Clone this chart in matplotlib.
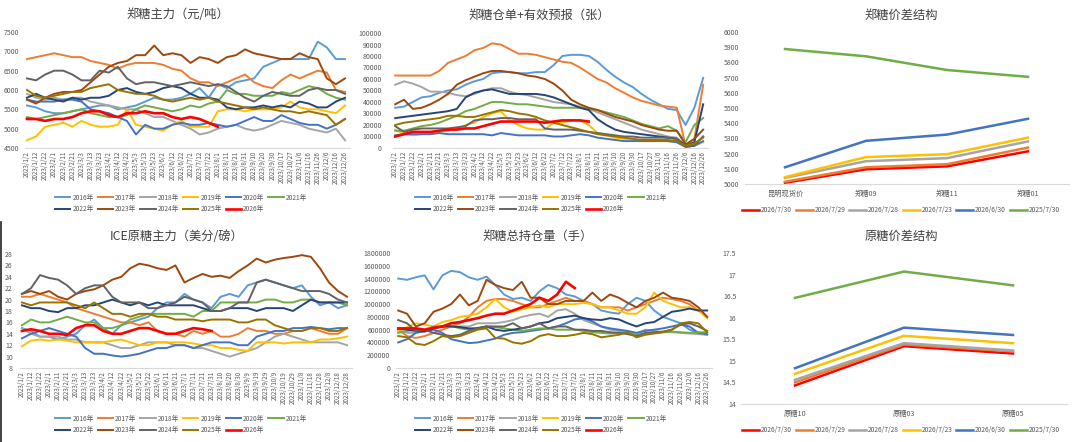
import matplotlib
matplotlib.use('Agg')
import matplotlib.pyplot as plt
from matplotlib.lines import Line2D

plt.rcParams['font.family'] = ['Noto Sans CJK SC', 'DejaVu Sans']

# ---------------- x-axis labels ----------------
dates_zz = ['2023/1/2', '2023/1/12', '2023/1/22', '2023/2/1', '2023/2/11', '2023/2/21', '2023/3/3', '2023/3/13',
            '2023/3/23', '2023/4/2', '2023/4/12', '2023/4/22', '2023/5/3', '2023/5/13', '2023/5/23', '2023/6/2',
            '2023/6/12', '2023/6/22', '2023/7/2', '2023/7/12', '2023/7/22', '2023/8/1', '2023/8/11', '2023/8/21',
            '2023/8/31', '2023/9/10', '2023/9/20', '2023/9/30', '2023/10/17', '2023/10/27', '2023/11/6',
            '2023/11/16', '2023/11/26', '2023/12/6', '2023/12/16', '2023/12/26']
dates_ice = ['2023/1/2', '2023/1/12', '2023/1/22', '2023/2/1', '2023/2/11', '2023/2/21', '2023/3/3', '2023/3/13',
             '2023/3/23', '2023/4/2', '2023/4/12', '2023/4/22', '2023/5/2', '2023/5/12', '2023/5/22', '2023/6/1',
             '2023/6/11', '2023/6/21', '2023/7/1', '2023/7/11', '2023/7/21', '2023/7/31', '2023/8/10', '2023/8/20',
             '2023/8/30', '2023/9/9', '2023/9/19', '2023/9/29', '2023/10/9', '2023/10/19', '2023/10/29',
             '2023/11/8', '2023/11/18', '2023/11/28', '2023/12/8', '2023/12/18', '2023/12/28']

years = ['2016年', '2017年', '2018年', '2019年', '2020年', '2021年', '2022年', '2023年', '2024年', '2025年', '2026年']

# ---------------- 郑糖主力 (元/吨) ----------------
price_2016 = [5600, 5550, 5450, 5400, 5400, 5450, 5500, 5550, 5600, 5600, 5500, 5550, 5600, 5700, 5800, 5750, 5750, 5800,
              5900, 6050, 5800, 6150, 6050, 6200, 6250, 6300, 6600, 6700, 6800, 6800, 6800, 6800, 7250, 7100, 6800, 6800]
price_2017 = [6800, 6850, 6900, 6950, 6900, 6850, 6850, 6750, 6700, 6650, 6550, 6650, 6700, 6700, 6700, 6650, 6550, 6500,
              6300, 6200, 6200, 6100, 6200, 6300, 6400, 6200, 6100, 6050, 6250, 6400, 6300, 6400, 6500, 6450, 6000, 5950]
price_2018 = [5900, 5800, 5750, 5800, 5750, 5800, 5800, 5700, 5650, 5600, 5550, 5500, 5500, 5400, 5300, 5300, 5200, 5100,
              5000, 4850, 4900, 5000, 5050, 5100, 5000, 4950, 5000, 5100, 5200, 5150, 5100, 5000, 4950, 4900, 5000, 4700]
price_2019 = [4700, 4800, 5050, 5100, 5150, 5050, 5200, 5100, 5050, 5050, 5100, 5500, 5100, 5050, 5000, 4950, 5100, 5200,
              5050, 5050, 5050, 5450, 5500, 5500, 5450, 5500, 5500, 5500, 5550, 5700, 5550, 5500, 5500, 5450, 5400, 5600]
price_2020 = [5750, 5700, 5700, 5700, 5750, 5750, 5700, 5500, 5450, 5400, 5300, 5200, 4850, 5100, 5000, 5000, 5100, 5150,
              5100, 5100, 5150, 5100, 5050, 5100, 5200, 5300, 5200, 5200, 5350, 5250, 5150, 5100, 5100, 5000, 5100, 5250]
price_2021 = [5300, 5250, 5300, 5350, 5400, 5450, 5500, 5400, 5350, 5300, 5300, 5350, 5500, 5600, 5550, 5500, 5450, 5500,
              5600, 5550, 5650, 5700, 6000, 5900, 5900, 5850, 5850, 5850, 5950, 5900, 6000, 6100, 6050, 5900, 5800, 5750]
price_2022 = [5800, 5900, 5800, 5750, 5700, 5800, 5750, 5800, 5800, 5850, 6000, 6050, 5950, 5900, 5950, 6050, 6100, 6050,
              5900, 5800, 5800, 5750, 5550, 5500, 5550, 5550, 5600, 5550, 5600, 5550, 5700, 5650, 5550, 5550, 5700, 5800]
price_2023 = [5750, 5650, 5800, 5900, 5950, 5950, 6000, 6200, 6400, 6600, 6700, 6750, 6900, 6900, 7150, 6900, 6950, 6900,
              6700, 6850, 6800, 6700, 6850, 6900, 7050, 6950, 6900, 6850, 6800, 6800, 6950, 6850, 6800, 6300, 6150, 6300]
price_2024 = [6300, 6250, 6400, 6500, 6500, 6400, 6250, 6250, 6500, 6450, 6600, 6300, 6150, 6200, 6200, 6150, 6100, 6150,
              6200, 6150, 6100, 6150, 6100, 5950, 5800, 5700, 5850, 5950, 5900, 5850, 5850, 6000, 6050, 6000, 6000, 5900]
price_2025 = [6000, 5850, 5800, 5850, 5900, 5950, 5950, 6050, 6100, 6150, 6000, 5950, 5900, 5900, 5850, 5750, 5700, 5750,
              5800, 5750, 5800, 5700, 5650, 5600, 5550, 5500, 5550, 5500, 5450, 5450, 5400, 5450, 5400, 5350, 5100, 5250]
price_2026 = [5250, 5250, 5200, 5250, 5250, 5300, 5400, 5450, 5450, 5350, 5300, 5400, 5400, 5450, 5400, 5400, 5300, 5250,
              5300, 5250, 5150, 5050]

# ---------------- 郑糖仓单+有效预报 (张) ----------------
wr_2016 = [35000, 36000, 40000, 44000, 45000, 48000, 50000, 51000, 55000, 58000, 60000, 65000, 66000, 66000, 65000, 65000,
           66000, 66000, 72000, 80000, 81000, 81000, 80000, 75000, 68000, 62000, 57000, 53000, 47000, 42000, 38000, 34000,
           33000, 20000, 35000, 61000]
wr_2017 = [63000, 63000, 63000, 63000, 63000, 67000, 74000, 77000, 80000, 85000, 87000, 91000, 90000, 86000, 82000, 82000,
           81000, 79000, 77000, 75000, 74000, 70000, 65000, 60000, 57000, 52000, 48000, 44000, 41000, 39000, 37000, 36000,
           35000, 2000, 8000, 55000]
wr_2018 = [55000, 58000, 56000, 53000, 49000, 49000, 48000, 46000, 45000, 47000, 50000, 52000, 52000, 49000, 47000, 46000,
           44000, 42000, 40000, 39000, 38000, 36000, 34000, 31000, 28000, 25000, 22000, 19000, 16000, 14000, 12000, 10000,
           9000, 2000, 3000, 10000]
wr_2019 = [16000, 12000, 11000, 12000, 13000, 14000, 15000, 17000, 20000, 22000, 27000, 30000, 32000, 24000, 20000, 17000,
           16000, 16000, 22000, 22000, 24000, 24000, 20000, 13000, 11000, 9000, 8000, 7000, 6000, 6000, 6000, 6000,
           5000, 1000, 2000, 5000]
wr_2020 = [11000, 12000, 12000, 12000, 12000, 13000, 12000, 12000, 12000, 12000, 12000, 11000, 13000, 12000, 11000, 11000,
           11000, 11000, 10000, 10000, 11000, 12000, 11000, 9000, 8000, 7000, 6000, 6000, 6000, 6000, 6000, 6000,
           5000, 1000, 2000, 6000]
wr_2021 = [15000, 15000, 17000, 19000, 20000, 22000, 25000, 28000, 32000, 34000, 37000, 40000, 40000, 39000, 38000, 38000,
           37000, 36000, 35000, 35000, 35000, 35000, 34000, 33000, 31000, 29000, 27000, 24000, 21000, 19000, 17000, 19000,
           15000, 5000, 20000, 26000]
wr_2022 = [26000, 27000, 28000, 29000, 30000, 31000, 32000, 34000, 44000, 48000, 50000, 51000, 49000, 47000, 47000, 47000,
           47000, 46000, 44000, 41000, 38000, 35000, 33000, 25000, 20000, 16000, 14000, 13000, 12000, 11000, 10000, 9000,
           8000, 2000, 5000, 38000]
wr_2023 = [38000, 42000, 34000, 35000, 38000, 42000, 47000, 55000, 59000, 62000, 65000, 67000, 67000, 66000, 65000, 63000,
           62000, 60000, 56000, 50000, 42000, 38000, 35000, 33000, 30000, 27000, 25000, 23000, 20000, 18000, 16000, 15000,
           15000, 3000, 8000, 16000]
wr_2024 = [19000, 14000, 16000, 17000, 17000, 17000, 17000, 18000, 19000, 24000, 25000, 25000, 26000, 26000, 25000, 25000,
           25000, 17000, 16000, 16000, 16000, 15000, 14000, 13000, 12000, 11000, 10000, 10000, 9000, 9000, 9000, 9000,
           8000, 1000, 2000, 10000]
wr_2025 = [20000, 22000, 23000, 24000, 25000, 26000, 28000, 28000, 27000, 27000, 29000, 31000, 33000, 32000, 30000, 29000,
           27000, 24000, 22000, 20000, 18000, 16000, 14000, 12000, 11000, 10000, 9000, 8000, 7000, 7000, 7000, 7000,
           6000, 2000, 4000, 9000]
wr_2026 = [10000, 12000, 14000, 14000, 14000, 15000, 16000, 16000, 17000, 17000, 19000, 21000, 23000, 23000, 23000, 23000,
           23000, 22000, 23000, 24000, 24000, 24000, 23000]

# ---------------- ICE原糖主力 (美分/磅) ----------------
ice_2016 = [15.0, 14.5, 13.5, 13.5, 13.0, 13.5, 14.0, 15.5, 16.5, 15.0, 14.0, 15.5, 16.0, 16.5, 17.0, 18.5, 19.5, 19.5,
            21.0, 20.0, 19.5, 18.5, 20.5, 21.0, 20.5, 22.5, 23.0, 23.5, 23.0, 22.5, 22.0, 22.5, 20.5, 19.0, 19.5, 18.5, 19.0]
ice_2017 = [20.5, 20.5, 21.0, 20.5, 20.0, 19.5, 18.5, 18.0, 17.5, 17.0, 16.5, 16.0, 16.0, 15.5, 16.0, 14.5, 14.0, 14.0,
            13.5, 14.5, 14.0, 14.5, 13.5, 13.5, 14.0, 15.0, 14.5, 14.5, 14.0, 14.0, 14.5, 14.5, 15.0, 14.5, 14.0, 14.0, 15.0]
ice_2018 = [15.0, 14.0, 13.5, 13.5, 13.5, 13.0, 13.0, 12.5, 12.5, 12.5, 12.0, 11.5, 11.5, 12.0, 12.5, 12.5, 12.5, 12.0,
            12.0, 11.5, 11.5, 11.0, 10.5, 10.0, 10.5, 11.0, 11.5, 12.5, 13.5, 14.0, 13.5, 13.0, 12.5, 12.5, 12.5, 12.5, 12.0]
ice_2019 = [11.8, 12.8, 13.0, 12.8, 13.0, 12.8, 12.5, 12.5, 12.5, 12.5, 12.8, 13.0, 12.5, 12.0, 12.0, 12.5, 12.5, 12.5,
            12.5, 12.3, 12.0, 12.0, 11.5, 11.5, 11.2, 11.0, 12.5, 12.5, 12.5, 12.3, 12.5, 12.5, 12.5, 13.0, 13.0, 13.2, 13.5]
ice_2020 = [13.2, 14.0, 14.5, 15.0, 14.5, 14.0, 13.5, 11.5, 10.5, 10.5, 10.2, 10.0, 10.2, 10.5, 11.0, 11.5, 11.5, 12.0,
            12.0, 11.5, 12.0, 12.5, 12.5, 12.5, 12.0, 12.0, 13.5, 14.0, 14.5, 14.5, 15.0, 15.0, 15.2, 15.0, 14.8, 15.0, 15.0]
ice_2021 = [15.5, 16.5, 16.0, 16.0, 16.5, 17.0, 16.5, 16.0, 16.0, 15.0, 15.0, 15.5, 16.5, 17.0, 17.5, 17.5, 17.5, 17.5,
            17.5, 17.0, 18.0, 18.0, 19.5, 19.5, 19.5, 19.5, 19.5, 20.0, 20.0, 19.5, 19.5, 20.0, 20.0, 19.5, 19.5, 19.5, 19.0]
ice_2022 = [19.0, 18.5, 18.5, 18.0, 17.8, 18.5, 18.5, 19.0, 19.0, 19.5, 20.0, 19.5, 19.0, 19.5, 19.0, 19.5, 19.0, 19.0,
            19.0, 19.0, 18.5, 18.0, 18.0, 18.5, 18.5, 18.5, 18.0, 18.5, 18.5, 18.5, 18.0, 19.0, 20.0, 19.5, 19.5, 19.5, 19.5]
ice_2023 = [21.0, 21.5, 21.0, 21.5, 20.5, 20.0, 21.0, 21.5, 21.8, 22.5, 23.5, 24.0, 25.5, 26.3, 26.0, 25.5, 25.2, 26.0,
            23.0, 23.8, 24.5, 24.0, 24.2, 23.8, 25.0, 26.0, 27.2, 26.5, 27.0, 27.3, 27.5, 27.8, 27.5, 25.5, 23.0, 21.5, 20.5]
ice_2024 = [21.0, 22.0, 24.3, 23.8, 23.5, 22.5, 21.0, 22.0, 22.5, 22.5, 20.5, 19.5, 19.5, 19.5, 18.5, 18.5, 19.0, 19.5,
            20.5, 20.0, 19.5, 18.0, 18.0, 18.5, 19.5, 19.5, 23.0, 23.5, 23.0, 22.5, 22.0, 21.5, 21.5, 21.5, 21.0, 20.0, 19.5]
ice_2025 = [19.5, 19.0, 19.5, 19.5, 19.5, 19.5, 19.0, 18.5, 19.5, 18.5, 17.5, 17.5, 17.0, 17.5, 17.5, 17.0, 17.0, 16.5,
            16.5, 16.5, 16.2, 16.5, 16.5, 16.5, 16.0, 16.0, 16.5, 16.5, 15.5, 15.0, 14.5, 14.5, 15.0, 15.0, 14.5, 14.5, 15.0]
ice_2026 = [14.5, 14.8, 14.5, 14.0, 14.0, 13.8, 15.0, 15.5, 15.5, 14.5, 14.0, 14.0, 14.5, 15.0, 15.0, 14.5, 14.0, 14.0,
            14.5, 15.0, 14.8, 14.5]

# ---------------- 郑糖总持仓量 (手) ----------------
oi_2016 = [1400000, 1380000, 1420000, 1450000, 1230000, 1450000, 1520000, 1500000, 1420000, 1380000, 1430000, 1300000,
           1150000, 1080000, 1100000, 1050000, 1200000, 1300000, 1250000, 1150000, 1120000, 1050000, 1000000, 900000,
           870000, 850000, 1000000, 1100000, 1050000, 900000, 800000, 750000, 700000, 600000, 550000, 520000]
oi_2017 = [600000, 500000, 470000, 500000, 550000, 600000, 650000, 700000, 800000, 950000, 1050000, 1080000, 1080000,
           1050000, 1000000, 950000, 950000, 1000000, 1050000, 1100000, 1050000, 1050000, 1000000, 950000, 950000, 950000,
           900000, 950000, 1000000, 1050000, 1100000, 1080000, 1050000, 1000000, 900000, 800000]
oi_2018 = [600000, 550000, 550000, 580000, 620000, 640000, 650000, 650000, 650000, 700000, 700000, 700000, 720000, 750000,
           800000, 830000, 850000, 800000, 900000, 920000, 850000, 750000, 700000, 650000, 600000, 580000, 560000, 540000,
           600000, 580000, 560000, 560000, 550000, 540000, 530000, 520000]
oi_2019 = [580000, 640000, 700000, 680000, 650000, 720000, 750000, 800000, 820000, 850000, 950000, 1080000, 950000, 880000,
           920000, 950000, 980000, 950000, 1000000, 1000000, 1000000, 1020000, 1000000, 950000, 950000, 900000, 850000,
           850000, 950000, 1180000, 1050000, 1000000, 950000, 950000, 900000, 780000]
oi_2020 = [400000, 450000, 550000, 580000, 600000, 550000, 450000, 420000, 390000, 400000, 430000, 460000, 520000, 550000,
           560000, 580000, 600000, 620000, 650000, 700000, 760000, 780000, 730000, 650000, 620000, 600000, 580000, 550000,
           580000, 600000, 620000, 650000, 680000, 650000, 550000, 530000]
oi_2021 = [550000, 580000, 600000, 580000, 650000, 650000, 660000, 620000, 600000, 630000, 650000, 640000, 620000, 600000,
           580000, 600000, 620000, 620000, 600000, 600000, 600000, 580000, 560000, 550000, 540000, 550000, 550000, 520000,
           540000, 550000, 560000, 570000, 560000, 550000, 560000, 560000]
oi_2022 = [620000, 600000, 580000, 570000, 620000, 650000, 650000, 640000, 620000, 620000, 650000, 600000, 580000, 600000,
           620000, 650000, 700000, 720000, 780000, 800000, 820000, 780000, 760000, 750000, 780000, 760000, 700000, 650000,
           700000, 720000, 800000, 880000, 900000, 930000, 900000, 900000]
oi_2023 = [900000, 850000, 650000, 700000, 880000, 930000, 1000000, 1150000, 980000, 1050000, 1380000, 1300000, 1250000,
           1220000, 1350000, 1100000, 1100000, 1000000, 1000000, 1050000, 1050000, 1050000, 1180000, 1050000, 1150000,
           1100000, 1020000, 950000, 1050000, 1100000, 1180000, 1100000, 1080000, 1050000, 950000, 800000]
oi_2024 = [750000, 700000, 580000, 600000, 550000, 520000, 500000, 520000, 580000, 620000, 650000, 650000, 650000, 700000,
           620000, 650000, 700000, 620000, 650000, 650000, 600000, 600000, 580000, 580000, 560000, 550000, 530000, 500000,
           550000, 560000, 570000, 600000, 680000, 700000, 650000, 580000]
oi_2025 = [500000, 480000, 380000, 360000, 420000, 500000, 480000, 500000, 550000, 600000, 620000, 470000, 460000, 400000,
           380000, 420000, 500000, 530000, 500000, 500000, 520000, 550000, 530000, 480000, 500000, 520000, 560000, 480000,
           520000, 540000, 560000, 600000, 700000, 720000, 700000, 560000]
oi_2026 = [620000, 620000, 620000, 600000, 630000, 650000, 700000, 720000, 750000, 780000, 820000, 850000, 850000, 900000,
           950000, 1000000, 1100000, 1050000, 1150000, 1350000, 1250000]

# ---------------- 价差结构 ----------------
spread_dates = ['2026/7/30', '2026/7/29', '2026/7/28', '2026/7/23', '2026/6/30', '2025/7/30']
zz_contracts = ['昆明现货价', '郑糖09', '郑糖11', '郑糖01']
zz_0730 = [5008, 5097, 5116, 5215]
zz_0729 = [5015, 5110, 5130, 5240]
zz_0728 = [5040, 5150, 5170, 5280]
zz_0723 = [5045, 5177, 5196, 5305]
zz_0630 = [5110, 5284, 5325, 5429]
zz_250730 = [5888, 5840, 5750, 5705]
ice_contracts = ['原糖10', '原糖03', '原糖05']
raw_0730 = [14.43, 15.34, 15.17]
raw_0729 = [14.50, 15.38, 15.22]
raw_0728 = [14.56, 15.41, 15.24]
raw_0723 = [14.70, 15.58, 15.41]
raw_0630 = [14.83, 15.77, 15.60]
raw_250730 = [16.46, 17.07, 16.75]

# ---------------- styling ----------------
year_colors = ['#5B9BD5', '#ED7D31', '#A5A5A5', '#FFC000', '#4472C4', '#70AD47',
               '#264478', '#9E480E', '#636363', '#997300', '#FF0000']
spread_colors = ['#FF0000', '#ED7D31', '#A5A5A5', '#FFC000', '#4472C4', '#70AD47']
TXT = '#595959'
AXC = '#D9D9D9'

W, H = 1080, 442
fig = plt.figure(figsize=(W / 100, H / 100), dpi=100)
fig.patch.set_facecolor('white')


def add_ax(l, r, t, b):
    return fig.add_axes([l / W, 1 - b / H, (r - l) / W, (b - t) / H])


def style(ax, ypad):
    for s in ['top', 'right', 'left']:
        ax.spines[s].set_visible(False)
    ax.spines['bottom'].set_color(AXC)
    ax.spines['bottom'].set_linewidth(0.8)
    ax.tick_params(axis='both', length=0, colors=TXT)
    ax.tick_params(axis='y', labelsize=5, pad=ypad)
    ax.set_facecolor('none')


def title(text, cx, cy):
    fig.text(cx / W, 1 - cy / H, text, ha='center', va='center', fontsize=8.8,
             color='#404040', family=['Noto Sans CJK SC', 'DejaVu Sans'])


def seasonal(box, labels, series, ylim, yticks, ypad, ttl, tpos, legpos, fmt, xlim_pad=(0.25, 0.55)):
    ax = add_ax(*box)
    handles = []
    for name, vals, col in zip(years, series, year_colors):
        red = name == '2026年'
        h, = ax.plot(range(len(vals)), vals, color=col, lw=1.9 if red else 1.4,
                     zorder=4 if red else 2, solid_joinstyle='round')
        handles.append(h)
    ax.set_xlim(-xlim_pad[0], len(labels) - 1 + xlim_pad[1])
    ax.set_ylim(*ylim)
    ax.set_yticks(yticks)
    ax.set_yticklabels([fmt(v) for v in yticks])
    ax.set_xticks(range(len(labels)))
    ax.set_xticklabels(labels, rotation=90, fontsize=4.5)
    style(ax, ypad)
    ax.tick_params(axis='x', pad=2)
    title(ttl, *tpos)
    order = [0, 6, 1, 7, 2, 8, 3, 9, 4, 10, 5]
    fig.legend([handles[i] for i in order], [years[i] for i in order], ncol=6, loc='center',
               bbox_to_anchor=(legpos[0] / W, 1 - legpos[1] / H), frameon=False, fontsize=4.8,
               handlelength=2.3, handletextpad=0.3, columnspacing=0.6, labelspacing=0.55,
               labelcolor=TXT, borderpad=0)
    return ax


def spread(box, cats, series, ylim, yticks, ypad, ttl, tpos, legpos, fmt):
    ax = add_ax(*box)
    handles = []
    for name, vals, col in zip(spread_dates, series, spread_colors):
        h, = ax.plot(range(len(vals)), vals, color=col, lw=1.8, solid_joinstyle='round')
        handles.append(h)
    ax.set_xlim(-0.5, len(cats) - 0.5)
    ax.set_ylim(*ylim)
    ax.set_yticks(yticks)
    ax.set_yticklabels([fmt(v) for v in yticks])
    ax.set_xticks(range(len(cats)))
    ax.set_xticklabels(cats, fontsize=5.2)
    style(ax, ypad)
    ax.tick_params(axis='x', pad=4)
    title(ttl, *tpos)
    fig.legend(handles, spread_dates, ncol=6, loc='center',
               bbox_to_anchor=(legpos[0] / W, 1 - legpos[1] / H), frameon=False, fontsize=4.8,
               handlelength=2.5, handletextpad=0.3, columnspacing=0.6, labelcolor=TXT, borderpad=0)
    return ax


int_fmt = lambda v: f'{int(v)}'
num_fmt = lambda v: f'{v:g}'

# panel 1
seasonal((24.7, 350, 32, 148), dates_zz,
         [price_2016, price_2017, price_2018, price_2019, price_2020, price_2021, price_2022,
          price_2023, price_2024, price_2025, price_2026],
         (4500, 7500), list(range(4500, 7501, 500)), 4, '郑糖主力（元/吨）', (178, 15), (181, 203.5), int_fmt)

# panel 2
seasonal((393, 708, 33, 148), dates_zz,
         [wr_2016, wr_2017, wr_2018, wr_2019, wr_2020, wr_2021, wr_2022,
          wr_2023, wr_2024, wr_2025, wr_2026],
         (0, 100000), list(range(0, 100001, 10000)), 8, '郑糖仓单+有效预报（张）', (539, 15), (541, 203.5), int_fmt)

# panel 3
spread((744.5, 1068.5, 32, 184), zz_contracts,
       [zz_0730, zz_0729, zz_0728, zz_0723, zz_0630, zz_250730],
       (5000, 6000), list(range(5000, 6001, 100)), 4, '郑糖价差结构', (901, 15), (901, 210), int_fmt)

# panel 4
seasonal((19.7, 352, 254, 368), dates_ice,
         [ice_2016, ice_2017, ice_2018, ice_2019, ice_2020, ice_2021, ice_2022,
          ice_2023, ice_2024, ice_2025, ice_2026],
         (8, 28), list(range(8, 29, 2)), 5, 'ICE原糖主力（美分/磅）', (177, 236), (181, 424.5), int_fmt)

# panel 5
seasonal((396, 712, 253, 368), dates_zz,
         [oi_2016, oi_2017, oi_2018, oi_2019, oi_2020, oi_2021, oi_2022,
          oi_2023, oi_2024, oi_2025, oi_2026],
         (0, 1800000), list(range(0, 1800001, 200000)), 4, '郑糖总持仓量（手）', (538, 236), (541, 424.5), int_fmt)

# panel 6
spread((740.5, 1067.5, 253, 404), ice_contracts,
       [raw_0730, raw_0729, raw_0728, raw_0723, raw_0630, raw_250730],
       (14, 17.5), [14, 14.5, 15, 15.5, 16, 16.5, 17, 17.5], 3, '原糖价差结构', (901, 236), (901, 430), num_fmt)

# thin dark frame edge at lower-left, as in the screenshot
fig.add_artist(Line2D([0.8 / W, 0.8 / W], [0, 1 - 222 / H], color='#222222', lw=1.2))

fig.savefig('out.png', dpi=100, facecolor='white')
